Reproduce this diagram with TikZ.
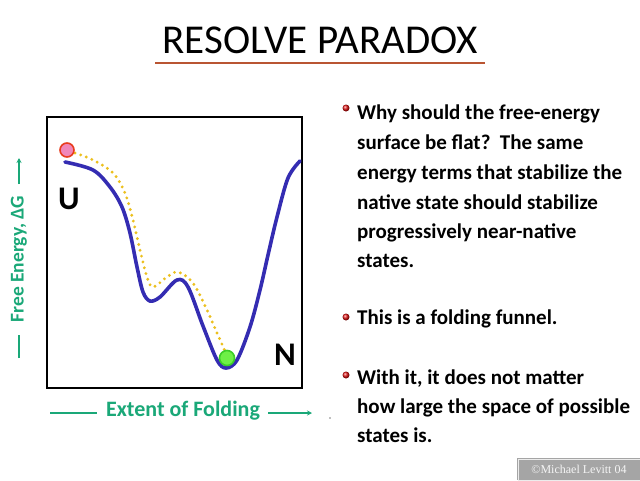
\documentclass[tikz,border=0pt]{standalone}
\usepackage{fontspec}
\setmainfont{Carlito}
\newfontfamily\copyfont{Liberation Serif}
\usetikzlibrary{arrows.meta}
\definecolor{curveblue}{RGB}{52,44,178}
\definecolor{pathgold}{RGB}{236,192,30}
\definecolor{axisgreen}{RGB}{26,168,120}
\definecolor{uline}{RGB}{185,85,50}
\definecolor{bulletred}{RGB}{225,20,20}
\definecolor{copygrey}{RGB}{165,165,165}
\begin{document}
\begin{tikzpicture}[x=1pt,y=-1pt,
  bodytext/.style={anchor=base west, inner sep=0pt, font=\fontsize{21}{23}\selectfont\bfseries},
  bulletdot/.style={circle, inner sep=0pt, minimum size=7pt, ball color=bulletred},
  axislabel/.style={text=axisgreen, inner sep=0pt, font=\fontsize{22}{24}\selectfont\bfseries},
  axisline/.style={draw=axisgreen, line width=1.3pt},
  ballnode/.style={circle, inner sep=0pt, minimum size=14pt, line width=1.6pt},
  bigletter/.style={inner sep=0pt, font=\fontsize{33}{35}\selectfont\bfseries}]
\useasboundingbox (0,0) rectangle (640,480);
\fill[white] (0,0) rectangle (640,480);

% title
\node[inner sep=0pt, font=\fontsize{41}{43}\selectfont] (title) at (320,40) {RESOLVE PARADOX};
\coordinate (ulA) at (155,63);
\coordinate (ulB) at (485,63);
\draw[uline, line width=2.6pt] (ulA) -- (ulB);

% plot box
\draw[line width=1.6pt] (47,117) rectangle (302,388);

% free energy curve
\draw[curveblue, line width=3.6pt, line cap=round] plot[smooth, tension=0.55] coordinates {
 (65,162) (93,170) (110,187) (122,207) (130,233) (137,267) (143,292) (150,301) (160,297)
 (177,280) (188,287) (203,326) (217,360) (226,368) (237,360) (250,327) (260,290)
 (268,255) (277,217) (288,178) (300,161)};

% folding path
\draw[pathgold, line width=3.2pt, line cap=round, dash pattern=on 0pt off 6pt] plot[smooth, tension=0.55] coordinates {
 (75,153) (93,160) (113,173) (125,193) (133,220) (140,250) (147,277) (153,287)
 (167,277) (178,272) (193,283) (207,310) (217,333) (225,351)};

% balls
\node[ballnode, draw={rgb,255:red,232;green,60;blue,30}, fill={rgb,255:red,240;green,135;blue,185}] (ballU) at (67,150) {};
\node[ballnode, minimum size=15pt, draw={rgb,255:red,60;green,205;blue,40}, fill={rgb,255:red,110;green,240;blue,70}] (ballN) at (227,358) {};

% state labels
\node[bigletter] (labU) at (69,199) {U};
\node[bigletter] (labN) at (285,355) {N};

% y axis label
\node[axislabel, rotate=90, font=\fontsize{19.5}{21}\selectfont\bfseries] (ylab) at (19,259) {Free Energy, ΔG};
\coordinate (yl0) at (19,358);
\coordinate (yl1) at (19,335);
\coordinate (ya0) at (19,184);
\coordinate (ya1) at (19,158);
\draw[axisline] (yl0) -- (yl1);
\draw[axisline, -{Stealth[length=5pt,width=5pt]}] (ya0) -- (ya1);

% x axis label
\node[axislabel] (xlab) at (183,411) {Extent of Folding};
\coordinate (xl0) at (50,413);
\coordinate (xl1) at (97,413);
\coordinate (xa0) at (268,413);
\coordinate (xa1) at (312,413);
\draw[axisline] (xl0) -- (xl1);
\draw[axisline, -{Stealth[length=5pt,width=5pt]}] (xa0) -- (xa1);
\fill[gray] (330,418) circle (0.8);

% bullets and text
\node[bulletdot] (b1) at (346,108) {};
\node[bodytext] (t1) at (357,119) {Why should the free-energy};
\node[bodytext] (t2) at (357,149) {surface be flat?\ \ The same};
\node[bodytext] (t3) at (357,179) {energy terms that stabilize the};
\node[bodytext] (t4) at (357,209) {native state should stabilize};
\node[bodytext] (t5) at (357,238) {progressively near-native};
\node[bodytext] (t6) at (357,267) {states.};

\node[bulletdot] (b2) at (346,317) {};
\node[bodytext] (t7) at (357,324) {This is a folding funnel.};

\node[bulletdot] (b3) at (346,375) {};
\node[bodytext] (t8) at (357,384) {With it, it does not matter};
\node[bodytext] (t9) at (357,413) {how large the space of possible};
\node[bodytext] (t10) at (357,442) {states is.};

% copyright
\fill[copygrey] (517,458) rectangle (640,480);
\draw[white!85!gray, line width=1pt] (518,459) rectangle (640,480);
\node[inner sep=0pt, text=white!92!gray, font=\copyfont\fontsize{12}{13}\selectfont] (copy) at (579,469) {©Michael Levitt 04};
\end{tikzpicture}
\end{document}
